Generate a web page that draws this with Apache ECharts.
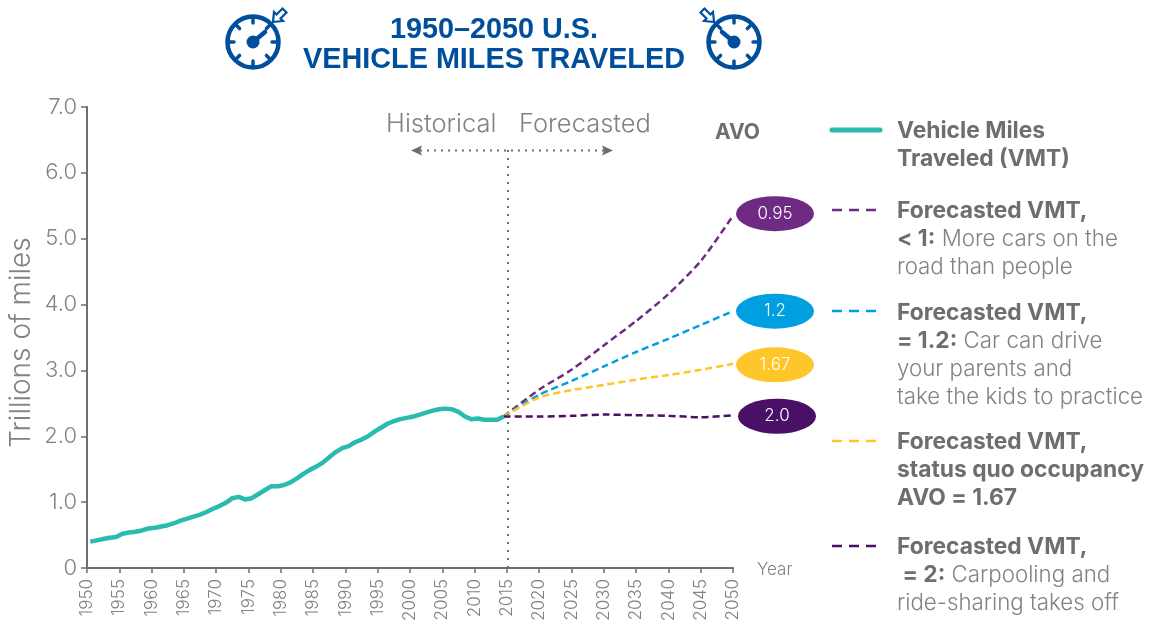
<!DOCTYPE html>
<html>
<head>
<meta charset="utf-8">
<script src="https://cdn.jsdelivr.net/npm/echarts@6/dist/echarts.min.js"></script>
<style>
html, body { margin: 0; padding: 0; background: #fff; }
#chart { width: 1149px; height: 624px; }
</style>
</head>
<body>
<div id="chart"></div>
<script>
// history: one value per year, 1950-2014
const histStart = 1950
const vmtHistory = [
  0.40, 0.42, 0.44, 0.46, 0.47, 0.52, 0.54, 0.55, 0.57, 0.60,
  0.61, 0.63, 0.65, 0.68, 0.72, 0.75, 0.78, 0.81, 0.85, 0.90,
  0.94, 0.99, 1.06, 1.08, 1.04, 1.06, 1.12, 1.18, 1.24, 1.24,
  1.26, 1.30, 1.36, 1.43, 1.49, 1.54, 1.60, 1.68, 1.76, 1.82,
  1.85, 1.91, 1.95, 2.00, 2.07, 2.13, 2.19, 2.23, 2.26, 2.28,
  2.30, 2.33, 2.36, 2.39, 2.41, 2.42, 2.41, 2.37, 2.30, 2.26,
  2.27, 2.25, 2.25, 2.25, 2.30
]
const forecastYears = [2014.5, 2020, 2025, 2030, 2035, 2040, 2045, 2050]
const forecast095 = [2.30, 2.71, 3.01, 3.38, 3.75, 4.16, 4.66, 5.35]
const forecast12 = [2.30, 2.63, 2.84, 3.06, 3.28, 3.48, 3.69, 3.90]
const forecast167 = [2.30, 2.59, 2.70, 2.78, 2.86, 2.93, 3.01, 3.10]
const forecast20 = [2.30, 2.30, 2.31, 2.33, 2.32, 2.31, 2.29, 2.32]
const yTicks = ['0', '1.0', '2.0', '3.0', '4.0', '5.0', '6.0', '7.0']

const GRAY = '#808285'
const DARK = '#6d6e71'
const BLUE = '#004f9c'
const TEAL = '#2abbb0'
const PURPLE = '#6f2a84'
const SKY = '#009fdf'
const YELLOW = '#ffc629'
const DEEP = '#4a0f66'
const FONT = 'Inter'

const toPairs = (xs, ys) => xs.map((x, i) => [x, ys[i]])

function forecastSeries(name, values, color, tag, offset) {
  return {
    name: name,
    type: 'line',
    data: toPairs(forecastYears, values),
    showSymbol: false,
    silent: true,
    smooth: 0.25,
    lineStyle: { color: color, width: 2.5, type: [7, 4] },
    markPoint: {
      silent: true,
      symbol: 'circle',
      symbolSize: [78, 35],
      symbolOffset: offset,
      itemStyle: { color: color },
      label: { show: true, formatter: tag, color: '#fff', fontFamily: FONT, fontWeight: 300, fontSize: 17 },
      data: [{ coord: [2050, values[values.length - 1]] }]
    }
  }
}

// speedometer icon, cx/cy is the dial centre, dir is -1 or 1 for the needle side
function gauge(cx, cy, dir) {
  const ticks = []
  for (let a = 0; a < 8; a++) {
    const t = a * Math.PI / 4
    ticks.push({
      type: 'line',
      shape: { x1: cx + 25 * Math.cos(t), y1: cy + 25 * Math.sin(t), x2: cx + 19 * Math.cos(t), y2: cy + 19 * Math.sin(t) },
      style: { stroke: BLUE, lineWidth: 3.5, lineCap: 'round' }
    })
  }
  const ax = cx + dir * 20
  const ay = cy - 20
  return {
    type: 'group',
    silent: true,
    children: ticks.concat([
      { type: 'circle', shape: { cx: cx, cy: cy, r: 25.5 }, style: { fill: 'none', stroke: BLUE, lineWidth: 4.5 } },
      { type: 'circle', shape: { cx: cx, cy: cy, r: 6.5 }, style: { fill: BLUE } },
      { type: 'line', shape: { x1: cx, y1: cy, x2: cx + dir * 12, y2: cy - 10 }, style: { stroke: BLUE, lineWidth: 4.5, lineCap: 'round' } },
      {
        type: 'polygon',
        shape: { points: [[ax, ay], [ax + dir * 10, ay - 1], [ax + dir * 7.5, ay - 3.5], [ax + dir * 13.5, ay - 9.5], [ax + dir * 9.5, ay - 13.5], [ax + dir * 3.5, ay - 7.5], [ax + dir * 1, ay - 10]] },
        style: { fill: '#fff', stroke: BLUE, lineWidth: 2.2 }
      }
    ])
  }
}

function legendKey(y, color, solid) {
  return {
    type: 'line',
    silent: true,
    shape: { x1: 832, y1: y, x2: solid ? 880 : 876, y2: y },
    style: solid
      ? { stroke: color, lineWidth: 5, lineCap: 'round' }
      : { stroke: color, lineWidth: 2.5, lineDash: [10, 7] }
  }
}

function legendText(y, text) {
  return {
    type: 'text',
    silent: true,
    x: 897,
    y: y,
    style: {
      text: text,
      fontFamily: FONT,
      fontSize: 22.5,
      lineHeight: 28,
      fill: GRAY,
      rich: {
        b: { fontFamily: FONT, fontWeight: 700, fontSize: 22.8, lineHeight: 28, fill: DARK },
        l: { fontFamily: FONT, fontWeight: 300, fontSize: 22.3, lineHeight: 28, fill: GRAY }
      }
    }
  }
}

const chart = echarts.init(document.getElementById('chart'))
chart.setOption({
  animation: false,
  backgroundColor: '#fff',
  grid: { left: 87, right: 416, top: 107, bottom: 56, containLabel: false, outerBoundsMode: 'none' },
  xAxis: {
    type: 'value',
    min: 1950,
    max: 2050,
    interval: 5,
    splitLine: { show: false },
    axisLine: { onZero: false, lineStyle: { color: DARK, width: 2 } },
    axisTick: { length: 5, lineStyle: { color: DARK, width: 1.5 } },
    axisLabel: {
      rotate: 90,
      margin: 11,
      color: GRAY,
      fontFamily: FONT,
      fontWeight: 300,
      fontSize: 17,
      formatter: (v) => String(v)
    }
  },
  yAxis: {
    type: 'value',
    min: 0,
    max: 7,
    interval: 1,
    name: 'Trillions of miles',
    nameLocation: 'middle',
    nameGap: 65,
    nameMoveOverlap: false,
    nameTextStyle: { color: GRAY, fontFamily: FONT, fontWeight: 300, fontSize: 28, padding: [0, 10, 0, 0], verticalAlign: 'middle' },
    splitLine: { show: false },
    axisLine: { show: true, lineStyle: { color: DARK, width: 2 } },
    axisTick: { show: true, length: 6, lineStyle: { color: DARK, width: 1.5 } },
    axisLabel: {
      margin: 10,
      color: GRAY,
      fontFamily: FONT,
      fontWeight: 300,
      fontSize: 22,
      formatter: (v) => yTicks[v]
    }
  },
  series: [
    forecastSeries('Forecasted VMT, < 1', forecast095, PURPLE, '0.95', [42, -2]),
    forecastSeries('Forecasted VMT, = 1.2', forecast12, SKY, '1.2', [42, 0]),
    forecastSeries('Forecasted VMT, status quo', forecast167, YELLOW, '1.67', [42, 1]),
    forecastSeries('Forecasted VMT, = 2', forecast20, DEEP, '2.0', [44, 1]),
    {
      name: 'Vehicle Miles Traveled (VMT)',
      type: 'line',
      // yearly values sit mid-way between the year ticks
      data: vmtHistory.map((v, i) => [histStart + i + 0.5, v]),
      showSymbol: false,
      silent: true,
      lineStyle: { color: TEAL, width: 4.5 },
      markLine: {
        silent: true,
        animation: false,
        symbol: 'none',
        label: { show: false },
        lineStyle: { color: DARK, width: 2, type: [2, 6] },
        data: [[{ coord: [2015.15, 0] }, { coord: [2015.15, 6.36] }]]
      }
    }
  ],
  graphic: [
    gauge(253, 42, 1),
    gauge(734, 42, -1),
    {
      type: 'text', silent: true, x: 494, y: 15,
      style: {
        text: '1950–2050 U.S.\nVEHICLE MILES TRAVELED',
        align: 'center', fontFamily: 'Liberation Sans', fontWeight: 700, fontSize: 28.8, lineHeight: 30, fill: BLUE
      }
    },
    { type: 'text', silent: true, x: 386, y: 111, style: { text: 'Historical', fontFamily: FONT, fontWeight: 300, fontSize: 25.5, fill: GRAY } },
    { type: 'text', silent: true, x: 519, y: 111, style: { text: 'Forecasted', fontFamily: FONT, fontWeight: 300, fontSize: 25.5, fill: GRAY } },
    { type: 'text', silent: true, x: 715, y: 122, style: { text: 'AVO', fontFamily: FONT, fontWeight: 700, fontSize: 21, fill: DARK } },
    { type: 'text', silent: true, x: 757, y: 561, style: { text: 'Year', fontFamily: FONT, fontWeight: 300, fontSize: 17, fill: GRAY } },
    {
      type: 'line', silent: true,
      shape: { x1: 420, y1: 150.5, x2: 604, y2: 150.5 },
      style: { stroke: DARK, lineWidth: 2, lineDash: [2, 5] }
    },
    { type: 'polygon', silent: true, shape: { points: [[411, 150.5], [422, 145.5], [420, 150.5], [422, 155.5]] }, style: { fill: DARK } },
    { type: 'polygon', silent: true, shape: { points: [[613, 150.5], [602, 145.5], [604, 150.5], [602, 155.5]] }, style: { fill: DARK } },
    legendKey(130, TEAL, true),
    legendKey(210, PURPLE),
    legendKey(311, SKY),
    legendKey(441, YELLOW),
    legendKey(546, DEEP),
    legendText(117, '{b|Vehicle Miles}\n{b|Traveled (VMT)}'),
    legendText(197, '{b|Forecasted VMT,}\n{b|< 1:} {l|More cars on the}\n{l|road than people}'),
    legendText(299, '{b|Forecasted VMT,}\n{b|= 1.2:} {l|Car can drive}\n{l|your parents and}\n{l|take the kids to practice}'),
    legendText(428, '{b|Forecasted VMT,}\n{b|status quo occupancy}\n{b|AVO = 1.67}'),
    legendText(533, '{b|Forecasted VMT,}\n{b| = 2:} {l|Carpooling and}\n{l|ride-sharing takes off}')
  ]
})
</script>
</body>
</html>
